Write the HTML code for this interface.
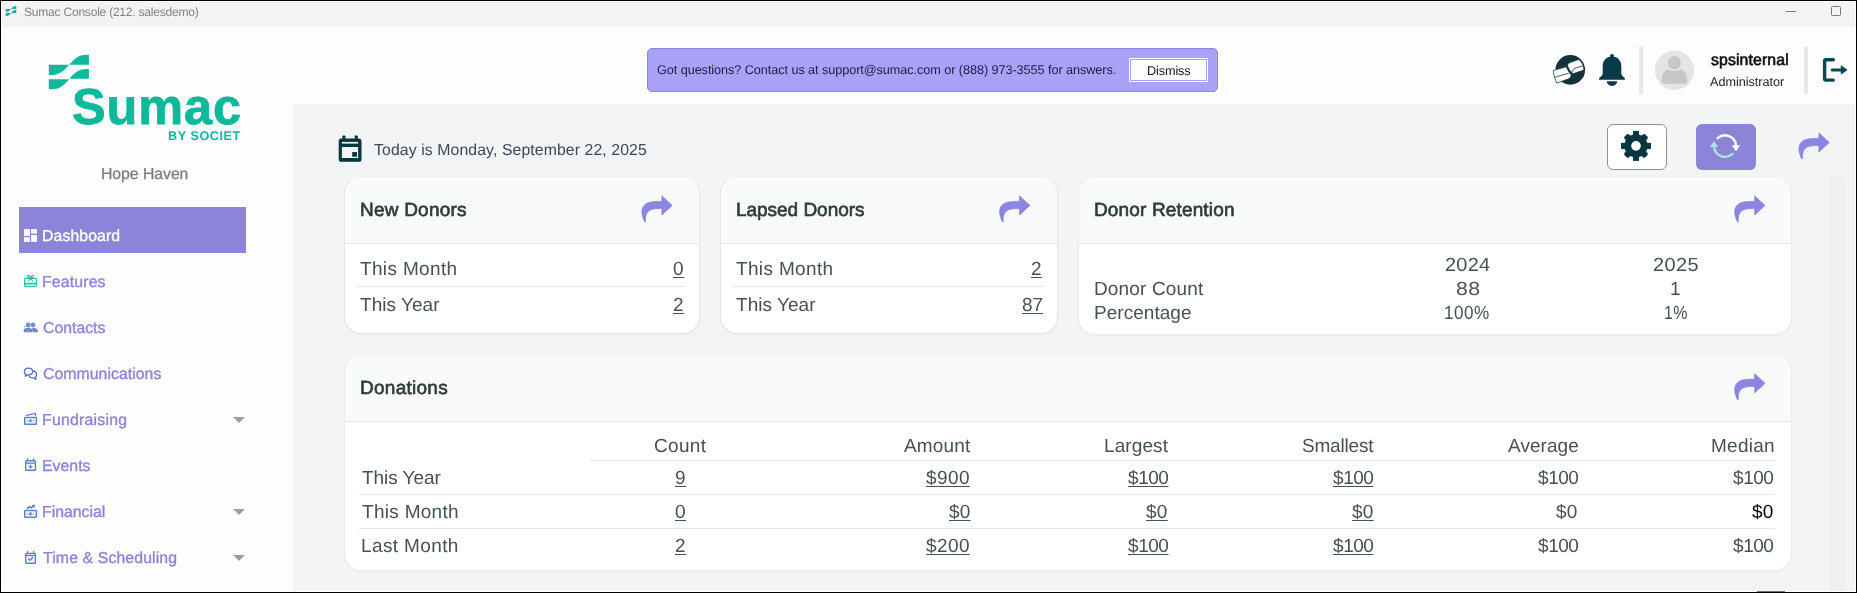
<!DOCTYPE html>
<html>
<head>
<meta charset="utf-8">
<title>Sumac Console</title>
<style>
*{box-sizing:border-box;margin:0;padding:0}
html,body{width:1857px;height:593px;overflow:hidden;background:#fdfdfe;font-family:"Liberation Sans",sans-serif;}
#win{will-change:transform;position:absolute;left:0;top:0;width:1857px;height:593px;overflow:hidden;background:#fdfdfe}
.abs{position:absolute}
svg{position:absolute;overflow:visible}
.t{position:absolute;white-space:nowrap;line-height:1;font-family:"Liberation Sans",sans-serif;transform:matrix(1,0,0.0005,1,0,0)}
.u{text-decoration:underline;text-decoration-thickness:1px;text-underline-offset:1.5px}
/* window chrome */
#bl{left:0;top:0;width:2px;height:593px;background:#fff;border-left:1px solid #000}
#bt{left:0;top:0;width:1857px;height:2px;background:#fff;border-top:1px solid #000}
#br{left:1855px;top:0;width:2px;height:593px;background:#fff;border-right:1px solid #000}
#bb{left:0;top:591px;width:1857px;height:2px;background:#fff;border-bottom:1px solid #000}
#titlebar{left:2px;top:2px;width:1853px;height:25px;background:#f3f3f3}
#main{left:293px;top:104px;width:1562px;height:487px;background:#f3f4f6}
#scroll{left:1828px;top:177px;width:17px;height:414px;background:#efefef;border-left:1px solid #fcfcfd}
/* nav */
#navact{left:19px;top:207px;width:227px;height:46px;background:#8b84d7}
.caret{position:absolute;left:232.5px;width:0;height:0;border-left:6.3px solid transparent;border-right:6.3px solid transparent;border-top:6.5px solid #9a9da1}
/* header */
#banner{left:647px;top:48px;width:571px;height:44px;background:#aaa2f6;border:1px solid #8d83e2;border-radius:5px}
#dismiss{left:1129px;top:58px;width:79px;height:24px;background:#fdfdfe;border:1px solid #fff;box-shadow:inset 0 0 0 1px #aaa2f6}
.vsep{position:absolute;top:47px;width:4px;height:47px;background:#e5e7eb}
/* cards */
.card{position:absolute;background:#fff;border:1px solid #e4e6ea;border-top-color:transparent;background-clip:padding-box;border-radius:17px;overflow:hidden;box-shadow:0 1px 2px rgba(20,30,60,0.035)}
.card .hd{position:absolute;left:0;top:0;right:0;height:67px;background:#f9fafb;border-bottom:1px solid #e5e7eb}
.hl{position:absolute;height:1px;background:#e5e7eb}
#gearbtn{left:1607px;top:124px;width:60px;height:46px;background:#fff;border:1px solid #8f9299;border-radius:6px}
#refbtn{left:1696px;top:124px;width:60px;height:46px;background:#8b84d7;border-radius:6px}
</style>
</head>
<body>
<div id="win">
  <div class="abs" id="titlebar"></div>
  <div class="abs" id="main"></div>
  <div class="abs" id="scroll"></div>

  <!-- SIDEBAR -->
  <div class="abs" id="navact"></div>
  <div class="caret" style="top:417px"></div>
  <div class="caret" style="top:509px"></div>
  <div class="caret" style="top:555px"></div>
<!--SIDEICONS-->

  <!-- HEADER -->
  <div class="abs" id="banner"></div>
  <div class="abs" id="dismiss"></div>
  <div class="vsep" style="left:1639px"></div>
  <div class="vsep" style="left:1804px"></div>
<!--HEADICONS-->

  <!-- CONTENT -->
  <div class="abs" id="gearbtn"></div>
  <div class="abs" id="refbtn"></div>
  <div class="card" style="left:344px;top:176px;width:356px;height:158px"><div class="hd"></div></div>
  <div class="card" style="left:720px;top:176px;width:338px;height:158px"><div class="hd"></div></div>
  <div class="card" style="left:1078px;top:176px;width:714px;height:159px;border-color:transparent #e9ebef #edeff2 #e9ebef"><div class="hd"></div></div>
  <div class="card" style="left:344px;top:354px;width:1448px;height:217px;border-color:transparent #e9ebef #edeff2 #e9ebef"><div class="hd"></div></div>
  <!-- row separators -->
  <div class="hl" style="left:357px;top:286px;width:329px"></div>
  <div class="hl" style="left:733px;top:286px;width:311px"></div>
  <div class="hl" style="left:590px;top:460px;width:1185px"></div>
  <div class="hl" style="left:359px;top:494px;width:1416px"></div>
  <div class="hl" style="left:359px;top:528px;width:1416px"></div>
<svg width="1857" height="593" viewBox="0 0 1857 593" style="left:0;top:0;pointer-events:none">
  <defs>
    <g id="logo">
      <path d="M69.2,64.8 C74,59.5 78,54.8 86.5,54.8 L88.9,54.8 L88.9,64.8 Z"/>
      <path d="M48.8,64.8 L69.2,64.8 C64.5,70 60.5,74.9 52,74.9 L48.8,74.9 Z"/>
      <path d="M69.2,78.8 C74,73.5 78,68.9 86.5,68.9 L88.9,68.9 L88.9,78.8 Z"/>
      <path d="M48.8,79.2 L69.2,79.2 C64.5,84.3 60.5,89.2 52,89.2 L48.8,89.2 Z"/>
    </g>
    <path id="share" d="M25.9,5.9 L36.2,15.4 L25.9,24.9 L25.9,18.6 C18.5,18.6 13.6,19 11,23 C9.4,25.6 9.3,28.6 9.6,31.7 L8.6,31.7 C6,26 4.7,20.8 7.4,16.4 C10.4,11.6 17,11.4 25.9,11.4 Z" fill="#8c85e1" stroke="#7a71df" stroke-width="0.6" stroke-linejoin="round"/>
  </defs>

  <!-- title bar -->
  <use href="#logo" fill="#17b396" transform="translate(5.7,6) scale(0.265,0.29) translate(-48.8,-54.8)"/>
  <rect x="1786" y="11" width="10" height="1" fill="#7b7b7b"/>
  <rect x="1831.5" y="6.5" width="9" height="9" fill="none" stroke="#7b7b7b" stroke-width="1" rx="1"/>

  <!-- sidebar logo -->
  <use href="#logo" fill="#0fb99c"/>

  <!-- share arrows -->
  <use href="#share" x="636" y="190"/>
  <use href="#share" x="993.7" y="190"/>
  <use href="#share" x="1728.8" y="190"/>
  <use href="#share" x="1728.8" y="367.8"/>
  <use href="#share" x="1793" y="127"/>

  <!-- nav icons -->
  <g fill="#fff">
    <rect x="24" y="229.1" width="5.9" height="6.8"/><rect x="24" y="237.2" width="5.9" height="4.7"/>
    <rect x="31.05" y="229.1" width="5.95" height="4.4"/><rect x="31.05" y="235" width="5.95" height="6.9"/>
  </g>
  <!-- features (gift card) -->
  <g fill="none" stroke="#22c5a6" stroke-width="1.25" stroke-linejoin="round" stroke-linecap="round">
    <rect x="24.7" y="278.3" width="11.8" height="8.1" rx="0.8"/>
    <path d="M24.7,283.7 H36.5" stroke-width="1.7"/>
    <path d="M30.5,278.3 C28.6,278 27.4,277.2 27.6,276 C27.8,274.9 29.5,275 30.5,278.3 C31.5,275 33.2,274.9 33.4,276 C33.6,277.2 32.4,278 30.5,278.3 M30.5,278.3 L28.4,281 M30.5,278.3 L32.6,281" stroke-width="1.1"/>
  </g>
  <!-- contacts (people) -->
  <g fill="#8a7fe0" stroke="#4d7fad" stroke-width="0.8">
    <circle cx="28.1" cy="324.9" r="1.95"/><circle cx="33" cy="324.9" r="1.95"/>
    <path d="M24.1,331.8 V330.2 C24.1,328.8 26.4,328.2 28.1,328.2 C29.8,328.2 32,328.8 32,330.2 V331.8 Z"/>
    <path d="M33,331.8 V330.2 C33,329.3 32.6,328.7 32.1,328.3 C33.9,328.1 37.3,328.8 37.3,330.2 V331.8 Z"/>
    <circle cx="24.6" cy="326.6" r="0.6" stroke="none" fill="#5b78c2"/>
  </g>
  <!-- communications (chat bubbles) -->
  <g fill="none" stroke="#5d6fc8" stroke-width="1.35" stroke-linejoin="round" stroke-linecap="round">
    <path d="M25.4,376.2 L25.5,374.2 C24.7,373.5 24.4,372.6 24.4,371.6 C24.4,369.6 26.2,368.1 28.5,368.1 C30.8,368.1 32.6,369.6 32.6,371.6 C32.6,373.6 30.8,375 28.5,375 C28,375 27.4,374.9 27,374.8 Z"/>
    <path d="M32.9,371 C35.1,371.2 36.6,372.7 36.6,374.5 C36.6,375.4 36.3,376.2 35.6,376.8 L35.7,379.4 L33.9,377.8 C33.5,377.9 33.1,377.9 32.7,377.9 C31,377.9 29.6,377.2 29,376"/>
  </g>
  <!-- fundraising (payments) -->
  <g fill="none" stroke="#5686c0" stroke-width="1.5" stroke-linejoin="round">
    <rect x="24.75" y="417.6" width="11.6" height="6.6" rx="0.5"/>
    <circle cx="30.5" cy="420.8" r="1.3" fill="#8a7fe0" stroke="#7f7fd8" stroke-width="0.6"/>
    <path d="M26.2,415.4 L35.4,413.4 L35.7,415.4" stroke="#6e7fd0" stroke-width="1.3" stroke-linecap="round"/>
  </g>
  <circle cx="27.5" cy="420.8" r="0.7" fill="#46a6ae"/><circle cx="33.5" cy="420.8" r="0.7" fill="#46a6ae"/>
  <!-- events (calendar +) -->
  <g fill="none" stroke="#5f7dc9" stroke-width="1.4" stroke-linejoin="round">
    <rect x="25.7" y="460.7" width="9.7" height="9.6" rx="0.8"/>
    <path d="M25.7,463.2 H35.4" stroke="#55a3b8" stroke-width="1.5"/>
    <path d="M27.5,458.6 V460.5 M33.6,458.6 V460.5" stroke="#7d80da" stroke-width="1.3" stroke-linecap="round"/>
    <path d="M30.5,464.8 V468.6 M28.6,466.7 H32.4" stroke="#6c86cf" stroke-width="1.4"/>
  </g>
  <!-- financial -->
  <g fill="none" stroke="#5d84c2" stroke-width="1.5" stroke-linejoin="round">
    <rect x="24.75" y="510.4" width="11.6" height="6.9" rx="0.5"/>
    <circle cx="30.5" cy="513.9" r="1.4" fill="#8a7fe0" stroke="#7f7fd8" stroke-width="0.6"/>
    <path d="M27.4,508.3 L29.6,506.6 L31.2,508 L33.6,506" stroke="#5c79c6" stroke-width="1.5" stroke-linecap="round"/>
    <path d="M32.1,505.4 H34.3 V507.6" stroke="#6f7ad2" stroke-width="1.2"/>
  </g>
  <circle cx="27.5" cy="513.9" r="0.7" fill="#46a6ae"/><circle cx="33.5" cy="513.9" r="0.7" fill="#46a6ae"/>
  <!-- time & scheduling (calendar check) -->
  <g fill="none" stroke="#5f7dc9" stroke-width="1.4" stroke-linejoin="round">
    <rect x="25.7" y="553.5" width="9.7" height="9.7" rx="0.8"/>
    <path d="M25.7,555.6 H35.4" stroke-width="1.2"/>
    <path d="M27.5,551.4 V553.3 M33.6,551.4 V553.3" stroke="#7d80da" stroke-width="1.3" stroke-linecap="round"/>
    <path d="M28.5,558.7 L30,560.2 L32.6,557.4" stroke="#5b79c6" stroke-width="1.4" stroke-linecap="round"/>
  </g>

  <!-- globe/book icon -->
  <circle cx="1570.3" cy="69.9" r="14.8" fill="#14323c"/>
  <g stroke="#14323c" stroke-width="0.75" stroke-linejoin="round" fill="#fff">
    <path d="M1553.26,70.58 L1565.88,66.87 C1567.23,67.68 1567.57,70.24 1571.28,74.29 C1571.28,76.65 1569.93,78.34 1568.24,79.01 L1556.77,83.06 L1554.41,77.33 Z"/>
    <path d="M1567.57,65.38 C1567.70,63.83 1568.92,62.82 1570.60,62.35 L1578.70,59.45 C1581.06,61.47 1582.55,63.83 1583.22,65.86 L1583.96,70.04 L1572.97,73.75 C1571.62,72.27 1568.24,69.57 1567.57,65.38 Z"/>
    <path d="M1554.41,77.33 L1569.05,73.14" fill="none" stroke-width="0.8"/>
    <path d="M1572.09,72.81 C1572.43,70.24 1573.30,68.89 1574.99,68.22 L1583.36,65.72" fill="none" stroke-width="0.8"/>
    <path d="M1566.76,66.19 C1567.57,67.68 1567.70,70.24 1571.41,74.43" fill="none" stroke-width="1.5"/>
  </g>
  <!-- bell -->
  <g fill="#053a46">
    <circle cx="1612" cy="55.9" r="2"/>
    <path d="M1612,56.6 C1617.6,56.6 1621.3,60.6 1621.3,66.3 L1621.3,73.6 C1621.3,75.2 1622.6,76.2 1624.9,78.3 L1624.9,79.8 L1599.1,79.8 L1599.1,78.3 C1601.4,76.2 1602.7,75.2 1602.7,73.6 L1602.7,66.3 C1602.7,60.6 1606.4,56.6 1612,56.6 Z"/>
    <path d="M1606.9,81.3 L1617.1,81.3 C1617.1,84 1614.8,86 1612,86 C1609.2,86 1606.9,84 1606.9,81.3 Z"/>
  </g>
  <!-- avatar -->
  <circle cx="1674.5" cy="70.3" r="19.6" fill="#e4e4e4"/>
  <circle cx="1674.3" cy="62.6" r="6.6" fill="#c7c7c7"/>
  <path d="M1661.6,80.8 C1661.6,74 1665,69.6 1668.2,69.4 C1670,70.4 1672,71 1674.3,71 C1676.6,71 1678.6,70.4 1680.4,69.4 C1684,69.6 1687.4,74 1687.4,80.8 C1687.4,82.8 1686.2,83.7 1684.4,83.7 L1664.6,83.7 C1662.8,83.7 1661.6,82.8 1661.6,80.8 Z" fill="#c7c7c7"/>
  <!-- logout -->
  <g fill="none" stroke="#0a4650" stroke-width="3.4" stroke-linejoin="round" stroke-linecap="round">
    <path d="M1833.3,59.8 H1826.2 Q1824.6,59.8 1824.6,61.4 V78.5 Q1824.6,80.1 1826.2,80.1 H1833.3"/>
    <path d="M1832.2,69.9 H1842.5" stroke-width="3"/>
  </g>
  <path d="M1841.2,65.7 L1847,69.9 L1841.2,74.1 Z" fill="#0a4650" stroke="#0a4650" stroke-width="0.8" stroke-linejoin="round"/>
  <!-- calendar -->
  <g fill="#06363f">
    <rect x="338.7" y="138.6" width="22.8" height="23.2" rx="2.6"/>
    <rect x="342.4" y="135.4" width="3" height="5" rx="0.8"/><rect x="354.8" y="135.4" width="3" height="5" rx="0.8"/>
  </g>
  <rect x="341.9" y="141.9" width="16.2" height="1.7" fill="#f3f4f6"/>
  <rect x="341.9" y="147" width="16.2" height="11" fill="#f3f4f6"/>
  <rect x="352.2" y="152.1" width="4.8" height="4.7" rx="0.5" fill="#06363f"/>
  <!-- gear -->
  <g fill="#06363f"><rect x="1632.95" y="130.9" width="6.1" height="7" transform="rotate(0 1636 145.9)"/><rect x="1632.8" y="131.3" width="6.4" height="7" rx="1.8" transform="rotate(45 1636 145.9)"/><rect x="1632.95" y="130.9" width="6.1" height="7" transform="rotate(90 1636 145.9)"/><rect x="1632.8" y="131.3" width="6.4" height="7" rx="1.8" transform="rotate(135 1636 145.9)"/><rect x="1632.95" y="130.9" width="6.1" height="7" transform="rotate(180 1636 145.9)"/><rect x="1632.8" y="131.3" width="6.4" height="7" rx="1.8" transform="rotate(225 1636 145.9)"/><rect x="1632.95" y="130.9" width="6.1" height="7" transform="rotate(270 1636 145.9)"/><rect x="1632.8" y="131.3" width="6.4" height="7" rx="1.8" transform="rotate(315 1636 145.9)"/><circle cx="1636" cy="145.9" r="11.6"/></g><circle cx="1636" cy="145.9" r="4.8" fill="#fff"/>
  <!-- refresh -->
  <g fill="none" stroke-width="2.4" stroke-linecap="round">
    <path d="M1717.6,138.2 A11,11 0 0 1 1736,145.6" stroke="#fff"/>
    <path d="M1732.4,153.9 A11,11 0 0 1 1714,146.6" stroke="#a9e2de"/>
  </g>
  <path d="M1731.8,145.2 L1740.2,145.2 L1736,151.2 Z" fill="#fff"/>
  <path d="M1709.9,147 L1718.3,147 L1714.1,140.9 Z" fill="#a9e2de"/>


</svg>


<span class="t" style="left:23.84px;top:6px;font-size:12.1px;color:#838383;letter-spacing:-0.257px;">Sumac Console (212. salesdemo)</span>
<span class="t" style="left:72.18px;top:82px;font-size:50.5px;color:#0db89b;font-weight:bold;-webkit-text-stroke:0.8px #0db89b;letter-spacing:0.890px;">Sumac</span>
<span class="t" style="left:168.43px;top:130px;font-size:12.6px;color:#0db89b;font-weight:bold;letter-spacing:0.560px;">BY SOCIET</span>
<span class="t" style="left:101.05px;top:166px;font-size:15.85px;color:#7c7a7a;-webkit-text-stroke:0.25px #7c7a7a;letter-spacing:-0.072px;">Hope Haven</span>
<span class="t" style="left:41.52px;top:228px;font-size:15.85px;color:#fff;-webkit-text-stroke:0.35px #fff;letter-spacing:0.072px;">Dashboard</span>
<span class="t" style="left:41.62px;top:274px;font-size:15.85px;color:#8b84d7;-webkit-text-stroke:0.35px #8b84d7;letter-spacing:0.140px;">Features</span>
<span class="t" style="left:42.79px;top:320px;font-size:15.85px;color:#8b84d7;-webkit-text-stroke:0.35px #8b84d7;letter-spacing:-0.020px;">Contacts</span>
<span class="t" style="left:42.79px;top:366px;font-size:15.85px;color:#8b84d7;-webkit-text-stroke:0.35px #8b84d7;letter-spacing:0.030px;">Communications</span>
<span class="t" style="left:41.79px;top:412px;font-size:15.85px;color:#8b84d7;-webkit-text-stroke:0.35px #8b84d7;letter-spacing:0.235px;">Fundraising</span>
<span class="t" style="left:42.09px;top:458px;font-size:15.85px;color:#8b84d7;-webkit-text-stroke:0.35px #8b84d7;letter-spacing:0.018px;">Events</span>
<span class="t" style="left:42.09px;top:504px;font-size:15.85px;color:#8b84d7;-webkit-text-stroke:0.35px #8b84d7;letter-spacing:-0.022px;">Financial</span>
<span class="t" style="left:42.79px;top:550px;font-size:15.85px;color:#8b84d7;-webkit-text-stroke:0.35px #8b84d7;letter-spacing:0.107px;">Time &amp; Scheduling</span>
<span class="t" style="left:656.65px;top:64px;font-size:12.7px;color:#1d1a4d;letter-spacing:-0.075px;">Got questions? Contact us at support@sumac.com or (888) 973-3555 for answers.</span>
<span class="t" style="left:1147.03px;top:65px;font-size:12.7px;color:#161616;letter-spacing:-0.127px;">Dismiss</span>
<span class="t" style="left:1711.16px;top:52px;font-size:15.85px;color:#0d0d0d;-webkit-text-stroke:0.6px #0d0d0d;letter-spacing:0.104px;">spsinternal</span>
<span class="t" style="left:1710.31px;top:76px;font-size:12.7px;color:#262626;letter-spacing:-0.042px;">Administrator</span>
<span class="t" style="left:373.71px;top:142px;font-size:15.85px;color:#3f4757;letter-spacing:0.080px;">Today is Monday, September 22, 2025</span>
<span class="t" style="left:359.90px;top:200px;font-size:19px;color:#2e3c3a;-webkit-text-stroke:0.65px #2e3c3a;letter-spacing:0.222px;">New Donors</span>
<span class="t" style="left:736.44px;top:200px;font-size:19px;color:#2e3c3a;-webkit-text-stroke:0.65px #2e3c3a;letter-spacing:-0.030px;">Lapsed Donors</span>
<span class="t" style="left:1093.98px;top:200px;font-size:19px;color:#2e3c3a;-webkit-text-stroke:0.65px #2e3c3a;letter-spacing:0.149px;">Donor Retention</span>
<span class="t" style="left:360.44px;top:378px;font-size:19px;color:#2e3c3a;-webkit-text-stroke:0.65px #2e3c3a;letter-spacing:0.268px;">Donations</span>
<span class="t" style="left:359.75px;top:259px;font-size:19px;color:#45534f;letter-spacing:0.347px;">This Month</span>
<span class="t" style="left:360.39px;top:295px;font-size:19px;color:#45534f;letter-spacing:0.029px;">This Year</span>
<span class="t u" style="left:673.40px;top:259px;font-size:19px;color:#45534f;letter-spacing:0.622px;">0</span>
<span class="t u" style="left:673.40px;top:295px;font-size:19px;color:#45534f;letter-spacing:0.622px;">2</span>
<span class="t" style="left:735.85px;top:259px;font-size:19px;color:#45534f;letter-spacing:0.347px;">This Month</span>
<span class="t" style="left:736.21px;top:295px;font-size:19px;color:#45534f;letter-spacing:0.029px;">This Year</span>
<span class="t u" style="left:1031.40px;top:259px;font-size:19px;color:#45534f;letter-spacing:0.522px;">2</span>
<span class="t u" style="left:1021.50px;top:295px;font-size:19px;color:#45534f;letter-spacing:-0.070px;">87</span>
<span class="t" style="left:1444.95px;top:255px;font-size:19px;color:#45534f;letter-spacing:0.232px;transform:matrix(1.05,0,0.0005,1,0,0);transform-origin:0 0;">2024</span>
<span class="t" style="left:1652.95px;top:255px;font-size:19px;color:#45534f;letter-spacing:0.381px;transform:matrix(1.05,0,0.0005,1,0,0);transform-origin:0 0;">2025</span>
<span class="t" style="left:1094.18px;top:279px;font-size:19px;color:#45534f;letter-spacing:0.144px;">Donor Count</span>
<span class="t" style="left:1456.14px;top:279px;font-size:19px;color:#45534f;letter-spacing:0.300px;transform:matrix(1.12,0,0.0005,1,0,0);transform-origin:0 0;">88</span>
<span class="t" style="left:1670.19px;top:279px;font-size:19px;color:#45534f;">1</span>
<span class="t" style="left:1094.26px;top:303px;font-size:19px;color:#45534f;letter-spacing:0.035px;">Percentage</span>
<span class="t" style="left:1444.17px;top:303px;font-size:19px;color:#45534f;letter-spacing:0.502px;transform:matrix(0.9,0,0.0005,1,0,0);transform-origin:0 0;">100%</span>
<span class="t" style="left:1664.43px;top:303px;font-size:19px;color:#45534f;letter-spacing:0.359px;transform:matrix(0.84,0,0.0005,1,0,0);transform-origin:0 0;">1%</span>
<span class="t" style="left:653.94px;top:436px;font-size:19px;color:#45534f;letter-spacing:0.300px;">Count</span>
<span class="t" style="left:904.42px;top:436px;font-size:19px;color:#45534f;letter-spacing:0.149px;">Amount</span>
<span class="t" style="left:1103.86px;top:436px;font-size:19px;color:#45534f;letter-spacing:0.100px;">Largest</span>
<span class="t" style="left:1302.45px;top:436px;font-size:19px;color:#45534f;letter-spacing:-0.198px;">Smallest</span>
<span class="t" style="left:1508.49px;top:436px;font-size:19px;color:#45534f;letter-spacing:0.051px;">Average</span>
<span class="t" style="left:1711.47px;top:436px;font-size:19px;color:#45534f;letter-spacing:0.256px;">Median</span>
<span class="t" style="left:362.14px;top:468px;font-size:19px;color:#45534f;letter-spacing:-0.048px;">This Year</span>
<span class="t u" style="left:675.40px;top:468px;font-size:19px;color:#45534f;letter-spacing:0.622px;">9</span>
<span class="t u" style="left:926.40px;top:468px;font-size:19px;color:#45534f;letter-spacing:0.405px;">$900</span>
<span class="t u" style="left:1127.60px;top:468px;font-size:19px;color:#45534f;letter-spacing:-0.445px;">$100</span>
<span class="t u" style="left:1333.00px;top:468px;font-size:19px;color:#45534f;letter-spacing:-0.445px;">$100</span>
<span class="t" style="left:1537.50px;top:468px;font-size:19px;color:#45534f;letter-spacing:-0.445px;">$100</span>
<span class="t" style="left:1733.00px;top:468px;font-size:19px;color:#45534f;letter-spacing:-0.445px;">$100</span>
<span class="t" style="left:361.75px;top:502px;font-size:19px;color:#45534f;letter-spacing:0.292px;">This Month</span>
<span class="t u" style="left:675.40px;top:502px;font-size:19px;color:#45534f;letter-spacing:0.622px;">0</span>
<span class="t u" style="left:948.60px;top:502px;font-size:19px;color:#45534f;letter-spacing:0.280px;">$0</span>
<span class="t u" style="left:1146.40px;top:502px;font-size:19px;color:#45534f;letter-spacing:0.280px;">$0</span>
<span class="t u" style="left:1351.80px;top:502px;font-size:19px;color:#45534f;letter-spacing:0.280px;">$0</span>
<span class="t" style="left:1556.30px;top:502px;font-size:19px;color:#45534f;letter-spacing:0.280px;">$0</span>
<span class="t" style="left:1751.80px;top:502px;font-size:19px;color:#050505;letter-spacing:0.280px;">$0</span>
<span class="t" style="left:361.39px;top:536px;font-size:19px;color:#45534f;letter-spacing:0.379px;">Last Month</span>
<span class="t u" style="left:675.40px;top:536px;font-size:19px;color:#45534f;letter-spacing:0.622px;">2</span>
<span class="t u" style="left:926.40px;top:536px;font-size:19px;color:#45534f;letter-spacing:0.405px;">$200</span>
<span class="t u" style="left:1127.60px;top:536px;font-size:19px;color:#45534f;letter-spacing:-0.445px;">$100</span>
<span class="t u" style="left:1333.00px;top:536px;font-size:19px;color:#45534f;letter-spacing:-0.445px;">$100</span>
<span class="t" style="left:1537.50px;top:536px;font-size:19px;color:#45534f;letter-spacing:-0.445px;">$100</span>
<span class="t" style="left:1733.00px;top:536px;font-size:19px;color:#45534f;letter-spacing:-0.445px;">$100</span>

  <div class="abs" id="bt"></div><div class="abs" id="bb"></div><div class="abs" id="bl"></div><div class="abs" id="br"></div><div class="abs" style="left:0;top:0;width:1857px;height:1px;background:#000"></div><div class="abs" style="left:0;top:592px;width:1857px;height:1px;background:#000"></div><div class="abs" style="left:1757px;top:591px;width:28px;height:1px;background:#6f7177;border-radius:1px"></div>
</div>
</body>
</html>
